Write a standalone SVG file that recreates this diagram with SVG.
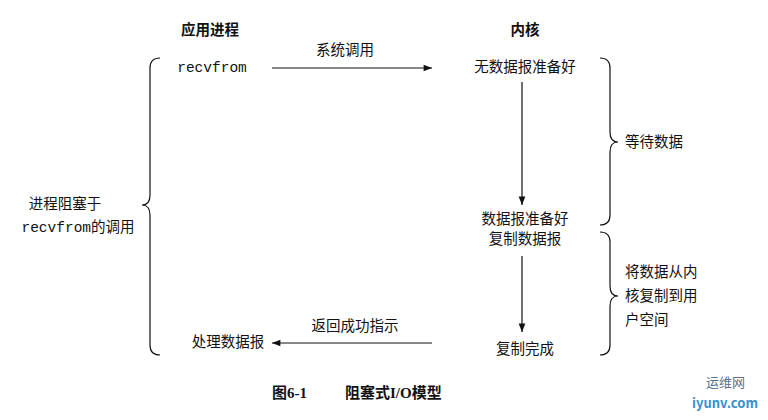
<svg xmlns="http://www.w3.org/2000/svg" width="768" height="420" viewBox="0 0 768 420">
<style>
text{font-family:"Noto Sans CJK SC","Liberation Sans",sans-serif;font-size:14.5px;fill:#111}
.m{font-family:"Liberation Mono","Noto Sans CJK SC",monospace}
.b{font-weight:bold}
.c{font-family:"Liberation Serif","Noto Sans CJK SC",serif;font-weight:bold;font-size:15px}
.l{stroke:#111;stroke-width:1.2;fill:none}
</style>
<defs><marker id="a" viewBox="0 0 10 10" refX="10" refY="5" markerWidth="9" markerHeight="7" orient="auto"><path d="M0,1 L10,5 L0,9 z" fill="#111"/></marker></defs>
<rect width="768" height="420" fill="#fff"/>
<text x="210" y="35" text-anchor="middle" class="b">应用进程</text>
<text x="525" y="35" text-anchor="middle" class="b">内核</text>
<g id="n-recvfrom"><text x="212" y="72" text-anchor="middle" class="m">recvfrom</text></g>
<g id="n-nodata"><text x="525" y="72" text-anchor="middle">无数据报准备好</text></g>
<g id="n-ready"><text x="525" y="224" text-anchor="middle">数据报准备好</text><text x="525" y="244" text-anchor="middle">复制数据报</text></g>
<g id="n-done"><text x="525" y="354" text-anchor="middle">复制完成</text></g>
<g id="n-process"><text x="228" y="347" text-anchor="middle">处理数据报</text></g>
<g id="n-block"><text x="65" y="209" text-anchor="middle">进程阻塞于</text><text x="78" y="232" text-anchor="middle"><tspan class="m">recvfrom</tspan>的调用</text></g>
<g id="n-wait"><text x="625" y="147">等待数据</text></g>
<g id="n-copy"><text x="625" y="277">将数据从内</text><text x="625" y="301">核复制到用</text><text x="625" y="325">户空间</text></g>
<g id="connectors">
<line class="l" x1="272" y1="68" x2="432" y2="68" marker-end="url(#a)"/>
<text x="345" y="55" text-anchor="middle">系统调用</text>
<line class="l" x1="522" y1="82" x2="522" y2="205" marker-end="url(#a)"/>
<line class="l" x1="522" y1="256" x2="522" y2="332" marker-end="url(#a)"/>
<line class="l" x1="432" y1="343" x2="272" y2="343" marker-end="url(#a)"/>
<text x="355" y="331" text-anchor="middle">返回成功指示</text>
<path class="l" d="M160,58 Q150,58 150,68 L150,195 Q150,205 142,205 Q150,205 150,215 L150,345 Q150,355 160,355"/>
<path class="l" d="M600,58 Q610,58 610,68 L610,132 Q610,142 618,142 Q610,142 610,152 L610,215 Q610,225 600,225"/>
<path class="l" d="M600,232 Q610,232 610,242 L610,286 Q610,296 618,296 Q610,296 610,306 L610,345 Q610,355 600,355"/>
</g>
<text x="272" y="398" class="c">图6-1</text>
<text x="345" y="398" class="c">阻塞式I/O模型</text>
<text x="706" y="387" style="font-size:13px;fill:#5a6f8a">运维网</text>
<text x="692" y="408" style="font-size:13px;fill:#3a8fd0;font-weight:bold">iyunv.com</text>
</svg>
